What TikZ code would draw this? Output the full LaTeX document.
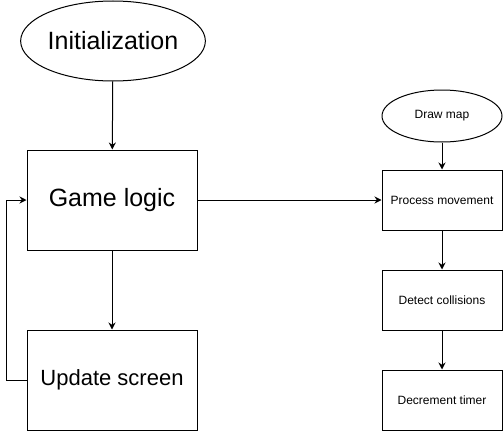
\documentclass[tikz,border=0pt]{standalone}
\usepackage{fontspec}
\setmainfont{Liberation Sans}
\usetikzlibrary{shapes.geometric,arrows.meta}

\begin{document}
\begin{tikzpicture}[x=1pt,y=1pt,line width=1pt,>={Stealth[length=7pt,width=7pt]}]
\tikzstyle{every node}+=[inner sep=0pt]
\tikzstyle{bigbox}=[draw,rectangle,minimum width=170,minimum height=100,font=\fontsize{25}{28}\selectfont]
\tikzstyle{smallbox}=[draw,rectangle,minimum width=120,minimum height=60,font=\fontsize{12}{14}\selectfont]
\useasboundingbox (0,0) rectangle (503,-431);
\node [draw,ellipse,minimum width=181,minimum height=80,font=\fontsize{25}{28}\selectfont] (init) at (113,-41) {Initialization};
\node [bigbox] (logic) at (112,-200) {Game logic};
\node [bigbox,font=\fontsize{22}{26}\selectfont] (update) at (112,-380) {Update screen};
\node [draw,ellipse,minimum width=120,minimum height=52,font=\fontsize{12}{14}\selectfont] (map) at (442,-116) {Draw map};
\node [smallbox] (move) at (442,-200) {Process movement};
\node [smallbox] (collide) at (442,-300) {Detect collisions};
\node [smallbox] (timer) at (442,-400) {Decrement timer};
\draw [->] (init) -- (logic);
\draw [->] (logic) -- (update);
\draw [->] (update.west) -- ++(-20,0) |- (logic.west);
\draw [->] (logic) -- (move);
\draw [->] (map) -- (move);
\draw [->] (move) -- (collide);
\draw [->] (collide) -- (timer);
\end{tikzpicture}
\end{document}
